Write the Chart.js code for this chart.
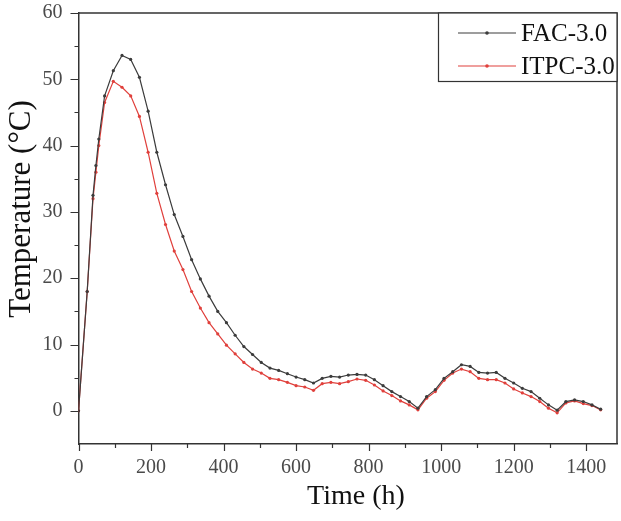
<!DOCTYPE html>
<html>
<head>
<meta charset="utf-8">
<script src="https://cdn.jsdelivr.net/npm/chart.js@4"></script>
<style>
html,body{margin:0;padding:0;background:#fff;}
#wrap{width:621px;height:521px;position:relative;}
</style>
</head>
<body>
<div id="wrap"><canvas id="c" width="621" height="521"></canvas></div>
<script>
const seriesNames = ['FAC-3.0', 'ITPC-3.0'];
const times = [0,24,40,48,56,72,96,120,144,168,192,216,240,264,288,312,336,360,384,408,432,456,480,504,528,552,576,600,624,648,672,696,720,744,768,792,816,840,864,888,912,936,960,984,1008,1032,1056,1080,1104,1128,1152,1176,1200,1224,1248,1272,1296,1320,1344,1368,1392,1416,1440];
const facValues = [0,18,32.5,37,41,47.5,51.3,53.6,53.0,50.3,45.2,39,34.1,29.6,26.3,22.8,19.9,17.3,15.0,13.3,11.4,9.7,8.5,7.3,6.45,6.1,5.6,5.1,4.7,4.2,4.9,5.2,5.1,5.4,5.5,5.4,4.7,3.8,2.9,2.15,1.4,0.4,2.15,3.2,4.9,5.9,6.95,6.7,5.8,5.7,5.8,4.9,4.2,3.4,2.9,1.9,0.9,0.1,1.4,1.65,1.4,0.9,0.25];
const itpcValues = [0,18,32,36,40,46.5,49.7,48.8,47.5,44.4,39,32.8,28.1,24.1,21.3,18.0,15.5,13.3,11.6,9.9,8.6,7.3,6.3,5.7,4.9,4.7,4.3,3.8,3.6,3.1,4.1,4.3,4.1,4.4,4.8,4.6,3.9,3.0,2.3,1.5,0.9,0.15,1.9,2.9,4.6,5.7,6.3,5.9,4.9,4.7,4.7,4.2,3.3,2.7,2.15,1.4,0.4,-0.3,1.2,1.5,1.1,0.8,0.15];
const xTickValues = [0,200,400,600,800,1000,1200,1400];
const xTickLabels = ['0','200','400','600','800','1000','1200','1400'];
const yTickValues = [0,10,20,30,40,50,60];
const yTickLabels = ['0','10','20','30','40','50','60'];
const xTitle = 'Time (h)';
const yTitle = 'Temperature (°C)';

const colors = ['#3c3c3c', '#e0403c'];
const serif = "'Liberation Serif', 'Times New Roman', serif";

function pts(vals){ return times.map((t,i)=>({x:t, y:vals[i]})); }

const extras = {
  id: 'extras',
  afterDraw(chart){
    const ctx = chart.ctx, a = chart.chartArea;
    const xs = chart.scales.x, ys = chart.scales.y;
    ctx.save();
    ctx.strokeStyle = '#333';
    ctx.lineWidth = 1.5;
    ctx.beginPath();
    ctx.moveTo(a.left, a.top); ctx.lineTo(a.right, a.top); ctx.lineTo(a.right, a.bottom);
    ctx.stroke();
    ctx.lineWidth = 1.2;
    ctx.beginPath();
    for (let v = 0; v <= 1400; v += 100) {
      const p = Math.round(xs.getPixelForValue(v)) + 0.5;
      const len = (v % 200 === 0) ? 7 : 4;
      ctx.moveTo(p, a.bottom); ctx.lineTo(p, a.bottom + len);
    }
    for (let v = 0; v <= 60; v += 5) {
      const p = Math.round(ys.getPixelForValue(v)) + 0.5;
      const len = (v % 10 === 0) ? 8 : 4;
      ctx.moveTo(a.left, p); ctx.lineTo(a.left - len, p);
    }
    ctx.stroke();
    // axis titles
    ctx.fillStyle = '#111';
    ctx.textAlign = 'center';
    ctx.textBaseline = 'middle';
    ctx.font = "28px " + serif;
    ctx.fillText(xTitle, 356, 497);
    ctx.save();
    ctx.translate(22, 209);
    ctx.rotate(-Math.PI / 2);
    ctx.font = "31px " + serif;
    ctx.fillText(yTitle, 0, 0);
    ctx.restore();
    // legend
    const L = 438.5, T = a.top, R = a.right, B = 81.5;
    ctx.fillStyle = '#fff';
    ctx.fillRect(L, T, R - L, B - T);
    ctx.strokeStyle = '#333';
    ctx.lineWidth = 1.2;
    ctx.strokeRect(L, T, R - L, B - T);
    const rows = [33, 66];
    chart.data.datasets.forEach((ds, i) => {
      const y = rows[i];
      ctx.strokeStyle = ds.borderColor;
      ctx.lineWidth = 1.2;
      ctx.beginPath(); ctx.moveTo(458, y); ctx.lineTo(516, y); ctx.stroke();
      ctx.fillStyle = ds.borderColor;
      ctx.beginPath(); ctx.arc(487, y, 1.8, 0, Math.PI*2); ctx.fill();
      ctx.fillStyle = '#111';
      ctx.font = "25px " + serif;
      ctx.textBaseline = 'middle';
      ctx.textAlign = 'left';
      ctx.fillText(ds.label, 521, y + 1);
    });
    ctx.restore();
  }
};

new Chart(document.getElementById('c'), {
  type: 'line',
  data: {
    datasets: [0,1].map(i => ({
      label: seriesNames[i],
      data: pts(i === 0 ? facValues : itpcValues),
      borderColor: colors[i],
      backgroundColor: colors[i],
      borderWidth: 1.2,
      pointRadius: 1.6,
      pointBorderWidth: 0,
      pointBackgroundColor: colors[i],
      tension: 0,
      fill: false
    }))
  },
  options: {
    responsive: false,
    animation: false,
    events: [],
    layout: { padding: { top: 13, right: 0, left: 0, bottom: 0 } },
    plugins: { legend: { display: false }, tooltip: { enabled: false } },
    scales: {
      x: {
        type: 'linear', min: 0, max: 1485,
        afterBuildTicks(s){ s.ticks = xTickValues.map(v => ({value: v})); },
        afterFit(s){ s.height = 77; s.paddingLeft = 0; s.paddingRight = 0; },
        grid: { display: false, drawTicks: false },
        border: { display: true, color: '#333', width: 1.5 },
        ticks: {
          autoSkip: false, maxRotation: 0, padding: 12,
          color: '#4a4a4a',
          font: { family: serif, size: 20 },
          callback: (v) => { const k = xTickValues.indexOf(v); return k >= 0 ? xTickLabels[k] : ''; }
        },
        title: { display: false }
      },
      y: {
        min: -5, max: 60,
        afterBuildTicks(s){ s.ticks = yTickValues.map(v => ({value: v})); },
        afterFit(s){ s.width = 78.5; s.paddingTop = 0; s.paddingBottom = 0; },
        grid: { display: false, drawTicks: false },
        border: { display: true, color: '#333', width: 1.5 },
        ticks: {
          autoSkip: false, padding: 16,
          color: '#4a4a4a',
          font: { family: serif, size: 20 },
          callback: (v) => { const k = yTickValues.indexOf(v); return k >= 0 ? yTickLabels[k] : ''; }
        },
        title: { display: false }
      }
    }
  },
  plugins: [extras]
});
</script>
</body>
</html>
